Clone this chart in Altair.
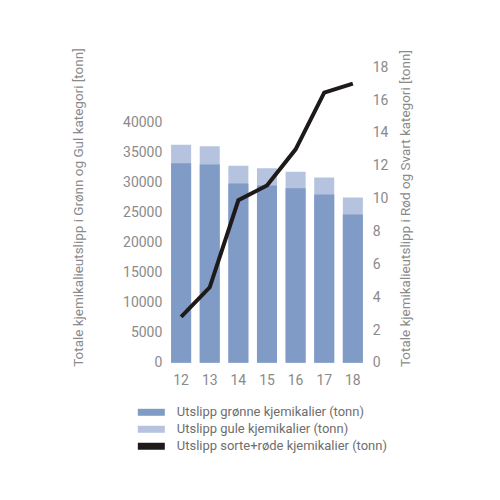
import altair as alt
import pandas as pd

years = ["12", "13", "14", "15", "16", "17", "18"]
green = [33200, 33000, 29850, 29500, 29050, 28000, 24700]
yellow = [3100, 3050, 2950, 2900, 2750, 2850, 2800]
red_black = [2.8, 4.6, 9.9, 10.8, 13.0, 16.45, 17.0]

series_names = [
    "Utslipp grønne kjemikalier (tonn)",
    "Utslipp gule kjemikalier (tonn)",
    "Utslipp sorte+røde kjemikalier (tonn)",
]
series_colors = ["#7f9bc6", "#b5c3df", "#1e1a19"]

left_title = "Totale kjemikalieutslipp i Grønn og Gul kategori [tonn]"
right_title = "Totale kjemikalieutslipp i Rød og Svart kategori [tonn]"

df = pd.DataFrame({"year": years, "green": green, "yellow": yellow, "red": red_black})
df["total"] = df["green"] + df["yellow"]
df["s_green"] = series_names[0]
df["s_yellow"] = series_names[1]

TEXT = "#8a8a8a"
FONT = "Roboto"

x_enc = alt.X(
    "year:O",
    sort=None,
    title=None,
    scale=alt.Scale(paddingInner=0.3, paddingOuter=0.15),
    axis=alt.Axis(labelAngle=0, labelPadding=11, labelFontSize=14),
)

left_axis = alt.Axis(
    values=list(range(0, 40001, 5000)),
    format="d",
    title=left_title,
    titlePadding=37,
    titleY=140,
    labelPadding=5,
)
left_scale = alt.Scale(domain=[0, 49200], nice=False)

color_scale = alt.Scale(domain=series_names, range=series_colors)
legend = alt.Legend(
    orient="none",
    legendX=-22,
    legendY=339,
    title=None,
    symbolType="M-3.86,-1H3.86V1H-3.86Z",
    symbolSize=49,
    symbolStrokeWidth=0,
    symbolOpacity=1,
    labelOffset=19,
    labelLimit=400,
    rowPadding=3,
    padding=0,
    labelFontSize=13,
    labelColor="#6e6e6e",
    labelFont=FONT,
)

total_bar = (
    alt.Chart(df)
    .mark_bar(opacity=1)
    .encode(
        x=x_enc,
        y=alt.Y("total:Q", scale=left_scale, axis=left_axis),
        color=alt.Color("s_yellow:N", scale=color_scale, legend=legend),
    )
)

green_bar = (
    alt.Chart(df)
    .mark_bar(opacity=1)
    .encode(
        x=x_enc,
        y=alt.Y("green:Q", scale=left_scale, axis=left_axis),
        color=alt.Color("s_green:N", scale=color_scale, legend=legend),
    )
)

line = (
    alt.Chart(df)
    .mark_line(color=series_colors[2], strokeWidth=4)
    .encode(
        x=x_enc,
        y=alt.Y(
            "red:Q",
            scale=alt.Scale(domain=[0, 18], nice=False),
            axis=alt.Axis(
                orient="right",
                values=list(range(0, 19, 2)),
                title=right_title,
                titleAngle=270,
                titlePadding=25,
                titleY=141,
                labelPadding=5,
            ),
        ),
    )
)

chart = (
    alt.layer(alt.layer(total_bar, green_bar), line)
    .resolve_scale(y="independent")
    .properties(
        width=200.6,
        height=296,
        autosize=alt.AutoSizeParams(type="none"),
        padding={"left": 159, "top": 59, "right": 125, "bottom": 125},
    )
    .configure_view(stroke=None)
    .configure_axis(
        grid=False,
        domain=False,
        ticks=False,
        labelFont=FONT,
        labelFontSize=14,
        labelColor=TEXT,
        titleFont=FONT,
        titleFontSize=13.5,
        titleFontWeight="normal",
        titleColor=TEXT,
    )
)

chart.save("out.html", embed_options={"renderer": "svg", "actions": False})
